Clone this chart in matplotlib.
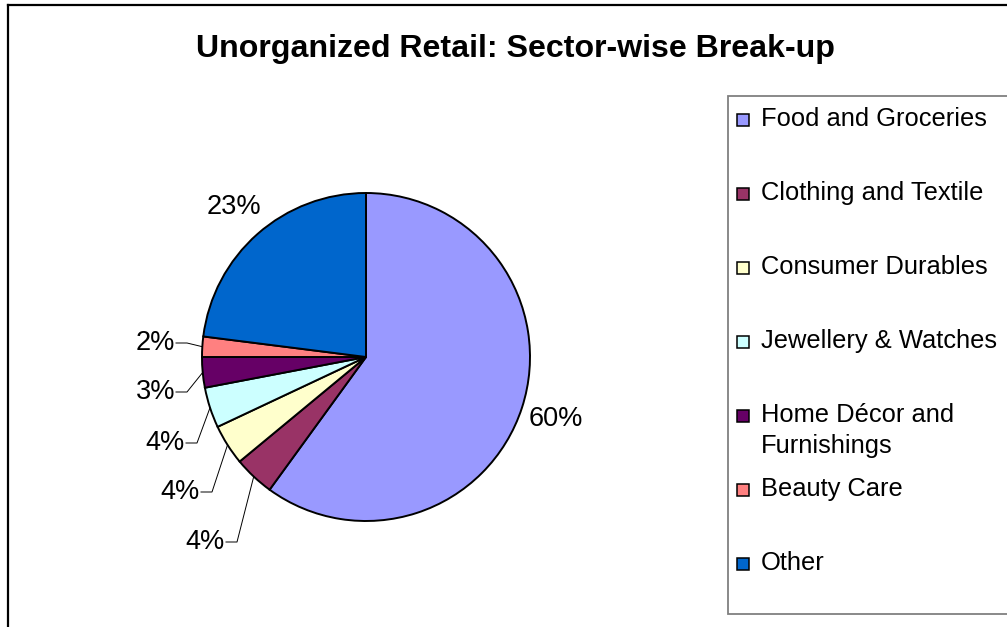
import numpy as np
import matplotlib
matplotlib.use("Agg")
import matplotlib.pyplot as plt
from matplotlib.patches import Rectangle

plt.rcParams["font.family"] = ["Liberation Sans", "DejaVu Sans"]

# Sector shares of unorganized retail (percent)
categories = [
    "Food and Groceries",
    "Clothing and Textile",
    "Consumer Durables",
    "Jewellery & Watches",
    "Home Décor and\nFurnishings",
    "Beauty Care",
    "Other",
]
shares = [60, 4, 4, 4, 3, 2, 23]
colors = ["#9999FF", "#993366", "#FFFFCC", "#CCFFFF", "#660066", "#FF8080", "#0066CC"]
title = "Unorganized Retail: Sector-wise Break-up"

W, H = 1007, 627
fig = plt.figure(figsize=(W / 100, H / 100), dpi=100)
ax = fig.add_axes([0, 0, 1, 1])

# work in pixel-like units, origin bottom-left
cx, cy, R = 366, H - 357, 164
wedges, _ = ax.pie(
    shares, colors=colors, startangle=90, counterclock=False,
    center=(cx, cy), radius=R,
    wedgeprops=dict(edgecolor="black", linewidth=1.4),
)
ax.set_xlim(0, W)
ax.set_ylim(0, H)
ax.set_aspect("auto")
ax.axis("off")

# outer chart frame (top and left edges visible)
ax.plot([8, W + 5], [H - 5, H - 5], color="black", lw=1.6, clip_on=False)
ax.plot([8, 8], [H - 5, -5], color="black", lw=1.6, clip_on=False)

ax.text(515, H - 49, title, ha="center", va="center",
        fontsize=23.1, fontweight="bold")

# percentage labels
label_fs = 19.5
total = float(sum(shares))
mid_angles = []
start = 90.0
for v in shares:
    span = 360.0 * v / total
    mid_angles.append(np.deg2rad(start - span / 2))
    start -= span

# small slices get leader lines to labels stacked on the left
leader_anchor = {1: (225, H - 542), 2: (200, H - 492), 3: (185, H - 443),
                 4: (175, H - 392), 5: (175, H - 343)}
for i, (v, a) in enumerate(zip(shares, mid_angles)):
    txt = f"{v}%"
    if i in leader_anchor:
        tx, ty = leader_anchor[i]
        ex, ey = cx + R * np.cos(a), cy + R * np.sin(a)
        ax.text(tx, ty, txt, ha="right", va="center", fontsize=label_fs)
        ax.plot([tx + 1, tx + 12, ex], [ty, ty, ey], color="black", lw=0.7)
    else:
        r = 1.22 * R
        ax.text(cx + r * np.cos(a), cy + r * np.sin(a), txt,
                ha="center", va="center", fontsize=label_fs)

# legend box on the right
ax.add_patch(Rectangle((728, H - 614), 400, 518, facecolor="white",
                       edgecolor="#808080", lw=1.3, clip_on=False))
legend_fs = 18.4
y0, step = H - 119, 74
for k, (name, col) in enumerate(zip(categories, colors)):
    yk = y0 - k * step
    ax.add_patch(Rectangle((737, yk - 7), 12, 12, facecolor=col,
                           edgecolor="black", lw=1.1))
    for j, line in enumerate(name.split("\n")):
        ax.text(761, yk - j * 31, line, ha="left", va="center",
                fontsize=legend_fs)

fig.savefig("out.png", dpi=100)
